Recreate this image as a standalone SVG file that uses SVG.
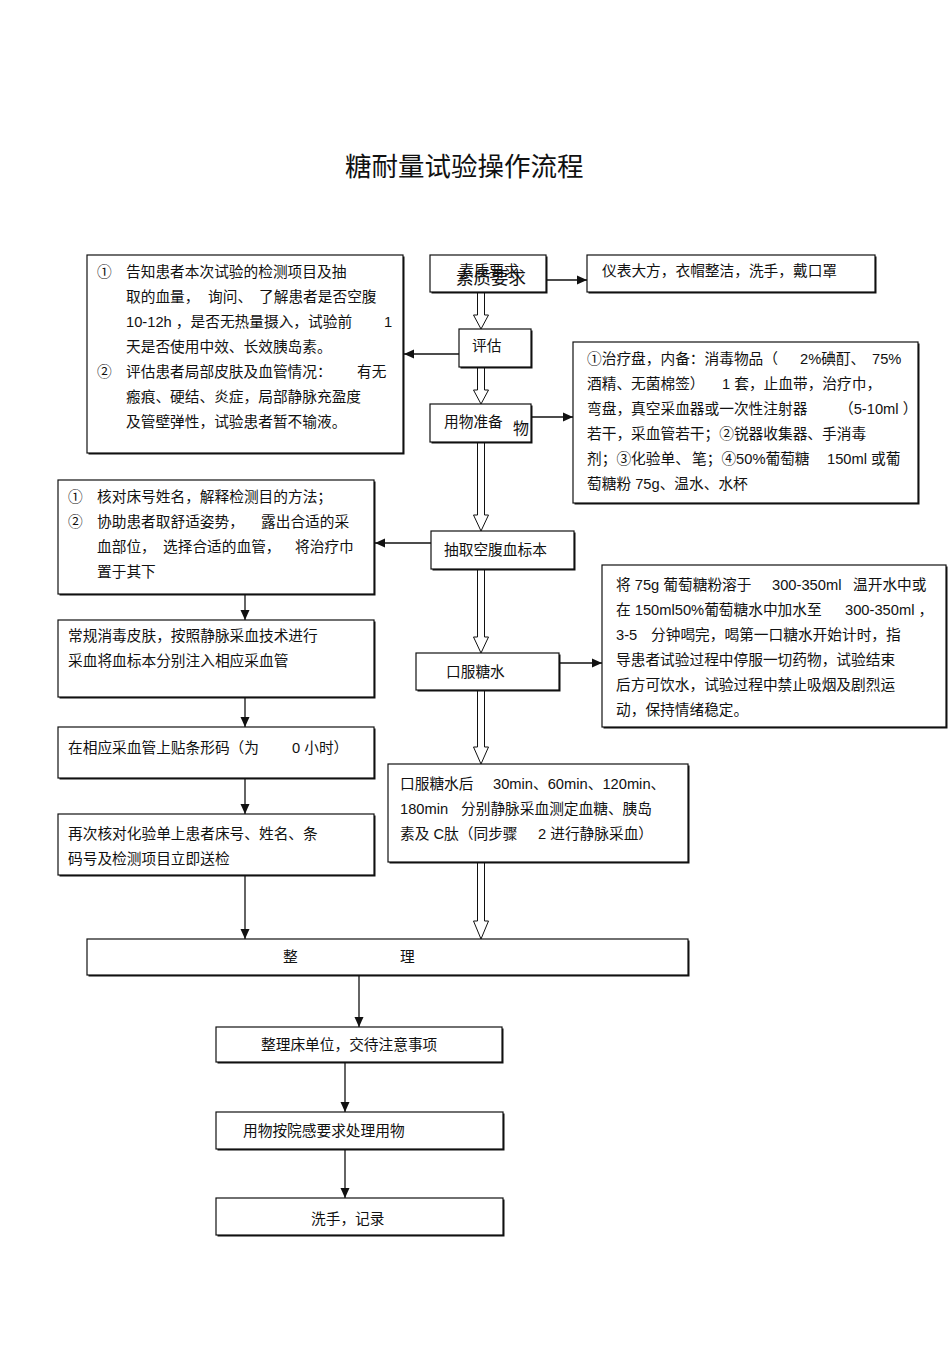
<svg xmlns="http://www.w3.org/2000/svg" width="950" height="1345" viewBox="0 0 950 1345">
<style>
.sh{fill:#111}
.bx{fill:#fff;stroke:#111;stroke-width:1.2}
.t{font-family:"Liberation Sans","Noto Sans CJK SC",sans-serif;font-size:14.7px;fill:#111}
.ttl{font-family:"Noto Sans CJK SC",sans-serif;font-size:26.5px;fill:#111}
.ln{stroke:#111;stroke-width:1.3;fill:none;marker-end:url(#ah)}
.ha{fill:#fff;stroke:#111;stroke-width:1}
</style>
<defs>
<marker id="ah" markerUnits="userSpaceOnUse" markerWidth="10" markerHeight="10" refX="10" refY="5" orient="auto">
<path d="M0,0.5 L10,5 L0,9.5 z" fill="#111"/>
</marker>
</defs>
<rect width="950" height="1345" fill="#fff"/>
<text class="ttl" x="345" y="176">糖耐量试验操作流程</text>

<g id="connectors">
<line class="ln" x1="546" y1="280" x2="587" y2="280"/>
<line class="ln" x1="459" y1="354" x2="404" y2="354"/>
<line class="ln" x1="531" y1="417" x2="573" y2="417"/>
<line class="ln" x1="431" y1="543" x2="375" y2="543"/>
<line class="ln" x1="559" y1="663" x2="602" y2="663"/>
<line class="ln" x1="245" y1="595" x2="245" y2="620"/>
<line class="ln" x1="245" y1="698" x2="245" y2="727"/>
<line class="ln" x1="245" y1="779" x2="245" y2="814"/>
<line class="ln" x1="245" y1="876" x2="245" y2="939"/>
<line class="ln" x1="359" y1="976" x2="359" y2="1027"/>
<line class="ln" x1="345" y1="1063" x2="345" y2="1112"/>
<line class="ln" x1="345" y1="1150" x2="345" y2="1198"/>
<path class="ha" d="M477.5,293 V315 H473.5 L481,329 L488.5,315 H484.5 V293"/>
<path class="ha" d="M477.5,368 V390 H473.5 L481,404 L488.5,390 H484.5 V368"/>
<path class="ha" d="M477.5,443 V515 H473.5 L481,531 L488.5,515 H484.5 V443"/>
<path class="ha" d="M477.5,570 V637 H473.5 L481,653 L488.5,637 H484.5 V570"/>
<path class="ha" d="M477.5,691 V747 H473.5 L481,764 L488.5,747 H484.5 V691"/>
<path class="ha" d="M477.5,863 V921 H473.5 L481,939 L488.5,921 H484.5 V863"/>
</g>

<g id="assess-detail">
<rect class="sh" x="88.5" y="256.5" width="316" height="198"/>
<rect class="bx" x="87" y="255" width="316" height="198"/>
<text class="t" x="97" y="277">①</text>
<text class="t" x="126" y="277">告知患者本次试验的检测项目及抽</text>
<text class="t" x="126" y="302">取的血量，</text>
<text class="t" x="208" y="302">询问、</text>
<text class="t" x="259" y="302">了解患者是否空腹</text>
<text class="t" x="126" y="327">10-12h ，是否无热量摄入，试验前</text>
<text class="t" x="384" y="327">1</text>
<text class="t" x="126" y="352">天是否使用中效、长效胰岛素。</text>
<text class="t" x="97" y="377">②</text>
<text class="t" x="126" y="377">评估患者局部皮肤及血管情况：</text>
<text class="t" x="357" y="377">有无</text>
<text class="t" x="126" y="402">瘢痕、硬结、炎症，局部静脉充盈度</text>
<text class="t" x="126" y="427">及管壁弹性，试验患者暂不输液。</text>
</g>

<g id="quality">
<rect class="sh" x="431.5" y="256.5" width="116" height="37"/>
<rect class="bx" x="430" y="255" width="116" height="37"/>
<text class="t" x="459" y="276" style="font-size:15px">素质要求</text>
<text class="t" x="456" y="284" style="font-size:17.5px">素质要求</text>
</g>

<g id="quality-detail">
<rect class="sh" x="588.5" y="256.5" width="288" height="37"/>
<rect class="bx" x="587" y="255" width="288" height="37"/>
<text class="t" x="602" y="276">仪表大方，衣帽整洁，洗手，戴口罩</text>
</g>

<g id="assess">
<rect class="sh" x="460.5" y="330.5" width="72" height="38"/>
<rect class="bx" x="459" y="329" width="72" height="38"/>
<text class="t" x="472" y="351">评估</text>
</g>

<g id="prepare">
<rect class="sh" x="431.5" y="405.5" width="101" height="38"/>
<rect class="bx" x="430" y="404" width="101" height="38"/>
<text class="t" x="444" y="427">用物准备</text>
<text class="t" x="513" y="434" style="font-size:16px">物</text>
</g>

<g id="prepare-detail">
<rect class="sh" x="574.5" y="343.5" width="345" height="161"/>
<rect class="bx" x="573" y="342" width="345" height="161"/>
<text class="t" x="587" y="364">①治疗盘，内备：消毒物品（</text>
<text class="t" x="800" y="364">2%碘酊、</text>
<text class="t" x="872" y="364">75%</text>
<text class="t" x="587" y="389">酒精、无菌棉签）</text>
<text class="t" x="722" y="389">1 套，止血带，治疗巾，</text>
<text class="t" x="587" y="414">弯盘，真空采血器或一次性注射器</text>
<text class="t" x="839" y="414">（5-10ml ）</text>
<text class="t" x="587" y="439">若干，采血管若干；②锐器收集器、手消毒</text>
<text class="t" x="587" y="464">剂；③化验单、</text>
<text class="t" x="692" y="464">笔；④50%葡萄糖</text>
<text class="t" x="827" y="464">150ml 或葡</text>
<text class="t" x="587" y="489">萄糖粉 75g、温水、水杯</text>
</g>

<g id="draw-detail">
<rect class="sh" x="59.5" y="481.5" width="316" height="114"/>
<rect class="bx" x="58" y="480" width="316" height="114"/>
<text class="t" x="68" y="502">①</text>
<text class="t" x="97" y="502">核对床号姓名，解释检测目的方法；</text>
<text class="t" x="68" y="527">②</text>
<text class="t" x="97" y="527">协助患者取舒适姿势，</text>
<text class="t" x="261" y="527">露出合适的采</text>
<text class="t" x="97" y="552">血部位，</text>
<text class="t" x="163" y="552">选择合适的血管，</text>
<text class="t" x="295" y="552">将治疗巾</text>
<text class="t" x="97" y="577">置于其下</text>
</g>

<g id="draw-fasting">
<rect class="sh" x="432.5" y="532.5" width="143" height="38"/>
<rect class="bx" x="431" y="531" width="143" height="38"/>
<text class="t" x="444" y="555">抽取空腹血标本</text>
</g>

<g id="disinfect">
<rect class="sh" x="59.5" y="621.5" width="316" height="77"/>
<rect class="bx" x="58" y="620" width="316" height="77"/>
<text class="t" x="68" y="641">常规消毒皮肤，按照静脉采血技术进行</text>
<text class="t" x="68" y="666">采血将血标本分别注入相应采血管</text>
</g>

<g id="oral-glucose">
<rect class="sh" x="417.5" y="654.5" width="143" height="37"/>
<rect class="bx" x="416" y="653" width="143" height="37"/>
<text class="t" x="446" y="677">口服糖水</text>
</g>

<g id="oral-detail">
<rect class="sh" x="603.5" y="566.5" width="344" height="162"/>
<rect class="bx" x="602" y="565" width="344" height="162"/>
<text class="t" x="616" y="590">将 75g 葡萄糖粉溶于</text>
<text class="t" x="772" y="590">300-350ml</text>
<text class="t" x="853" y="590">温开水中或</text>
<text class="t" x="616" y="615">在 150ml50%葡萄糖水中加水至</text>
<text class="t" x="845" y="615">300-350ml ，</text>
<text class="t" x="616" y="640">3-5</text>
<text class="t" x="651" y="640">分钟喝完，喝第一口糖水开始计时，指</text>
<text class="t" x="616" y="665">导患者试验过程中停服一切药物，试验结束</text>
<text class="t" x="616" y="690">后方可饮水，试验过程中禁止吸烟及剧烈运</text>
<text class="t" x="616" y="715">动，保持情绪稳定。</text>
</g>

<g id="label">
<rect class="sh" x="59.5" y="728.5" width="316" height="51"/>
<rect class="bx" x="58" y="727" width="316" height="51"/>
<text class="t" x="68" y="753">在相应采血管上贴条形码（为</text>
<text class="t" x="292" y="753">0 小时）</text>
</g>

<g id="timed-draws">
<rect class="sh" x="389.5" y="765.5" width="300" height="98"/>
<rect class="bx" x="388" y="764" width="300" height="98"/>
<text class="t" x="400" y="789">口服糖水后</text>
<text class="t" x="493" y="789">30min、60min、120min、</text>
<text class="t" x="400" y="814">180min</text>
<text class="t" x="461" y="814">分别静脉采血测定血糖、胰岛</text>
<text class="t" x="400" y="839">素及 C肽（同步骤</text>
<text class="t" x="538" y="839">2 进行静脉采血）</text>
</g>

<g id="recheck">
<rect class="sh" x="59.5" y="815.5" width="316" height="61"/>
<rect class="bx" x="58" y="814" width="316" height="61"/>
<text class="t" x="68" y="839">再次核对化验单上患者床号、姓名、条</text>
<text class="t" x="68" y="864">码号及检测项目立即送检</text>
</g>

<g id="tidy">
<rect class="sh" x="88.5" y="940.5" width="601" height="36"/>
<rect class="bx" x="87" y="939" width="601" height="36"/>
<text class="t" x="283" y="962">整</text>
<text class="t" x="400" y="962">理</text>
</g>

<g id="tidy-bed">
<rect class="sh" x="217.5" y="1028.5" width="286" height="35"/>
<rect class="bx" x="216" y="1027" width="286" height="35"/>
<text class="t" x="261" y="1050">整理床单位，交待注意事项</text>
</g>

<g id="dispose">
<rect class="sh" x="217.5" y="1113.5" width="287" height="37"/>
<rect class="bx" x="216" y="1112" width="287" height="37"/>
<text class="t" x="243" y="1136">用物按院感要求处理用物</text>
</g>

<g id="wash">
<rect class="sh" x="217.5" y="1199.5" width="287" height="37"/>
<rect class="bx" x="216" y="1198" width="287" height="37"/>
<text class="t" x="311" y="1224">洗手，记录</text>
</g>
</svg>
